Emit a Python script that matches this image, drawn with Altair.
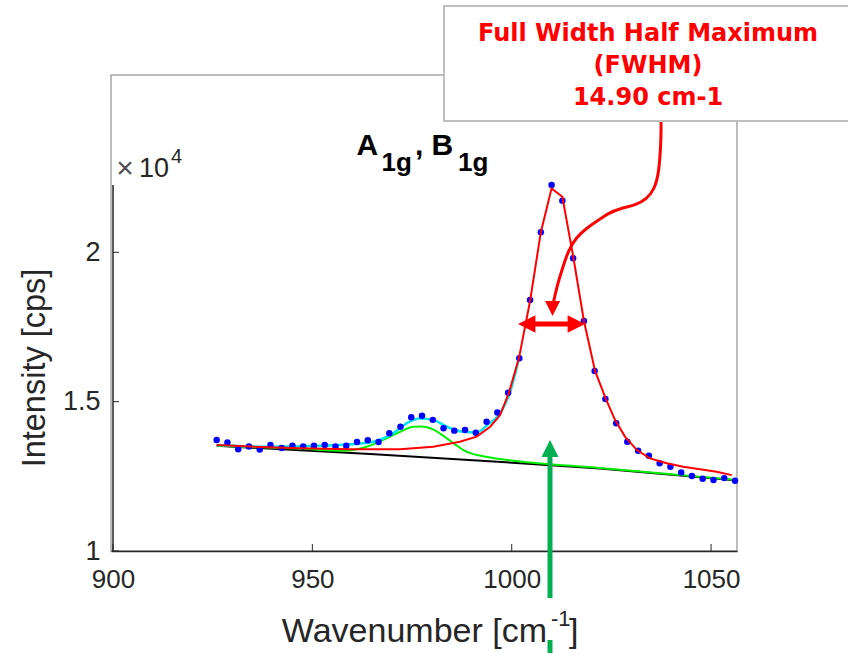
import altair as alt
import pandas as pd

# ---------------- data (intensity in units of 10^4 cps) ----------------
wavenumber = [926.0, 928.7, 931.4, 934.1, 936.8, 939.5, 942.3, 945.0, 947.7, 950.4,
              953.1, 955.8, 958.5, 961.2, 963.9, 966.6, 969.3, 972.1, 974.8, 977.5,
              980.2, 982.9, 985.6, 988.3, 991.0, 993.7, 996.4, 999.1, 1001.9, 1004.6,
              1007.3, 1010.0, 1012.7, 1015.4, 1018.1, 1020.8, 1023.5, 1026.2, 1029.0, 1031.7,
              1034.4, 1037.1, 1039.8, 1042.5, 1045.2, 1047.9, 1050.6, 1053.3, 1056.0]
intensity = [1.372, 1.363, 1.341, 1.350, 1.340, 1.355, 1.345, 1.352, 1.350, 1.352,
             1.355, 1.350, 1.352, 1.365, 1.371, 1.365, 1.394, 1.416, 1.448, 1.453,
             1.439, 1.411, 1.403, 1.405, 1.396, 1.433, 1.464, 1.530, 1.645, 1.840,
             2.067, 2.225, 2.173, 1.980, 1.770, 1.603, 1.509, 1.428, 1.366, 1.336,
             1.319, 1.294, 1.282, 1.263, 1.251, 1.242, 1.238, 1.244, 1.235]

base_x = [926.0, 964.5, 1002.1, 1022.1, 1055.2]
base_y = [1.352, 1.325, 1.294, 1.276, 1.238]

green_x = [926.0, 946.1, 957.8, 963.6, 967.8, 972.0, 975.3, 977.4, 980.3, 982.8,
           985.8, 987.9, 990.0, 992.5, 997.5, 1002.1, 1022.1, 1055.2]
green_y = [1.352, 1.343, 1.336, 1.349, 1.372, 1.399, 1.416, 1.417, 1.407, 1.386,
           1.357, 1.338, 1.326, 1.318, 1.307, 1.300, 1.278, 1.239]

cyan_x = [926.0, 938.5, 951.1, 959.4, 965.3, 969.5, 972.0, 973.7, 977.0, 980.3,
          983.7, 987.9, 991.2, 994.1, 997.1, 999.6, 1001.8]
cyan_y = [1.355, 1.349, 1.352, 1.357, 1.366, 1.388, 1.411, 1.428, 1.444, 1.439,
          1.416, 1.399, 1.397, 1.424, 1.461, 1.533, 1.645]

red_x = [926.0, 936.9, 946.9, 959.4, 972.0, 980.3, 987.0, 991.2, 994.6, 997.1,
         999.3, 1001.8, 1004.6, 1007.3, 1010.0, 1012.7, 1015.5, 1018.1, 1020.9, 1023.6,
         1025.9, 1028.4, 1031.4, 1034.7, 1038.9, 1043.0, 1047.2, 1051.4, 1055.2]
red_y = [1.355, 1.348, 1.344, 1.341, 1.341, 1.349, 1.366, 1.383, 1.416, 1.455,
         1.530, 1.645, 1.837, 2.067, 2.214, 2.186, 1.980, 1.771, 1.603, 1.509,
         1.439, 1.383, 1.338, 1.310, 1.294, 1.282, 1.274, 1.265, 1.254]

x_ticks = [900, 950, 1000, 1050]
y_ticks = [1, 1.5, 2]

# annotation geometry (data units)
curve_x = [1037.45, 1037.45, 1037.3, 1036.9, 1035.9, 1033.9, 1030.9, 1027.2, 1024.2,
           1021.7, 1018.7, 1016.2, 1014.2, 1012.6, 1011.3, 1010.5, 1010.3]
curve_y = [2.436, 2.390, 2.342, 2.268, 2.214, 2.178, 2.157, 2.147, 2.131,
           2.107, 2.080, 2.050, 2.007, 1.941, 1.884, 1.834, 1.822]
fwhm_x = [1003.8, 1016.2]
fwhm_y = [1.760, 1.760]
green_arrow_x = [1009.6, 1009.6]
green_arrow_y1 = [1.343, 0.843]
green_arrow_y2 = [0.702, 0.6585]

X_DOM = [899.5, 1056.5]
Y_DOM = [1.0, 2.5936]
xs = alt.Scale(domain=X_DOM, nice=False, zero=False)
ys = alt.Scale(domain=Y_DOM, nice=False, zero=False)

FONT = "Liberation Sans"
TXT = "#262626"

x_axis = alt.Axis(values=x_ticks, title=None, grid=False, ticks=False, domain=True,
                  domainColor=TXT, domainWidth=1.5, labelFont=FONT, labelFontSize=26,
                  labelColor=TXT, labelPadding=15, labelFlush=False, format="d")
y_axis = alt.Axis(values=y_ticks, title=None, grid=False, ticks=False, domain=False,
                  labelFont=FONT, labelFontSize=27, labelColor=TXT, labelPadding=11,
                  format=".1~f")


def XY(fx="x", fy="y"):
    return dict(
        x=alt.X(f"{fx}:Q", scale=xs, axis=x_axis),
        y=alt.Y(f"{fy}:Q", scale=ys, axis=y_axis),
    )


def line(xv, yv, color, width, interp="linear"):
    df = pd.DataFrame({"x": xv, "y": yv, "i": list(range(len(xv)))})
    return alt.Chart(df).mark_line(color=color, strokeWidth=width, interpolate=interp,
                                   clip=False).encode(order="i:Q", **XY())


def head(x, y, shape, size, color):
    df = pd.DataFrame({"x": [x], "y": [y]})
    return alt.Chart(df).mark_point(shape=shape, size=size, filled=True, color=color,
                                    opacity=1, strokeWidth=0).encode(**XY())


def text(t, x, y, size, color="black", weight="normal", align="left", baseline="alphabetic",
         font=FONT, angle=0):
    df = pd.DataFrame({"t": [t]})
    return alt.Chart(df).mark_text(fontSize=size, color=color, fontWeight=weight, align=align,
                                   baseline=baseline, font=font, angle=angle).encode(
        x=alt.value(x), y=alt.value(y), text="t:N")


pts = pd.DataFrame({"x": wavenumber, "y": intensity})
dots = alt.Chart(pts).mark_circle(size=42, color="#0000ff", opacity=1).encode(**XY())

xt = pd.DataFrame({"x": x_ticks})
yt = pd.DataFrame({"y": y_ticks})
xtick_marks = alt.Chart(xt).mark_rule(color=TXT, strokeWidth=1).encode(
    x=alt.X("x:Q", scale=xs, axis=x_axis), y=alt.value(476), y2=alt.value(469))
ytick_marks = alt.Chart(yt).mark_rule(color=TXT, strokeWidth=1).encode(
    y=alt.Y("y:Q", scale=ys, axis=y_axis), x=alt.value(2), x2=alt.value(8))
yaxis_line = alt.Chart(pd.DataFrame({"a": [0]})).mark_rule(color=TXT, strokeWidth=1.5).encode(
    x=alt.value(2), y=alt.value(110), y2=alt.value(476))

RED = "#ff0000"
GREEN_ARROW = "#00b050"

box = alt.Chart(pd.DataFrame({"a": [0]})).mark_rect(fill="white", stroke="#bfbfbf",
                                                    strokeWidth=2).encode(
    x=alt.value(333), x2=alt.value(760), y=alt.value(-69), y2=alt.value(46))

AFONT = "DejaVu Sans"

layers = [
    line(base_x, base_y, "black", 2),
    line(green_x, green_y, "#00ee00", 2, "monotone"),
    line(cyan_x, cyan_y, "#00e5ee", 2.5, "monotone"),
    dots,
    line(red_x, red_y, RED, 2),
    xtick_marks, ytick_marks, yaxis_line,
    # green arrow
    line(green_arrow_x, green_arrow_y1, GREEN_ARROW, 5),
    line(green_arrow_x, green_arrow_y2, GREEN_ARROW, 5),
    head(1009.6, 1.343, "M0,-1L1,1L-1,1Z", 289, GREEN_ARROW),
    # FWHM double arrow
    line(fwhm_x, fwhm_y, RED, 5),
    head(1003.76, 1.760, "M-1,0L1,-1L1,1Z", 300, RED),
    head(1016.2, 1.760, "M1,0L-1,-1L-1,1Z", 300, RED),
    # curved callout arrow
    line(curve_x, curve_y, RED, 3, "basis"),
    head(1010.24, 1.812, "M-1,-1L1,-1L0,1Z", 225, RED),
    box,
    text("Full Width Half Maximum", 537, -34.5, 24, RED, "bold", "center", font=AFONT),
    text("(FWHM)", 537, -2.5, 24, RED, "bold", "center", font=AFONT),
    text("14.90 cm-1", 537, 30, 24, RED, "bold", "center", font=AFONT),
    # title A1g, B1g
    text("A", 245.5, 79.5, 30, "black", "bold"),
    text("1g", 270.5, 96, 26, "black", "bold"),
    text(",", 304, 79.5, 30, "black", "bold"),
    text("B", 320.5, 79.5, 30, "black", "bold"),
    text("1g", 347, 96, 26, "black", "bold"),
    # x10^4 multiplier
    text("\u00d7", 14, 94, 30, "#505050", "normal", "center", "middle"),
    text("10", 28, 101.7, 27, TXT),
    text("4", 60, 88, 20, TXT),
    # axis titles
    text("Wavenumber [cm", 436, 567, 34, TXT, align="right"),
    text("-1", 440, 551, 22, TXT),
    text("]", 458, 567, 34, TXT),
    text("Intensity [cps]", -76, 293, 32.5, TXT, align="center", baseline="middle", angle=270),
]

chart = alt.layer(*layers).properties(
    width=626, height=476,
    padding={"left": 111, "top": 75, "right": 111, "bottom": 102},
    autosize=alt.AutoSizeParams(type="none"),
    background="white",
).configure_view(stroke="#a6a6a6", strokeWidth=1.5)

chart.save("out.html", embed_options={"renderer": "svg", "actions": False})
